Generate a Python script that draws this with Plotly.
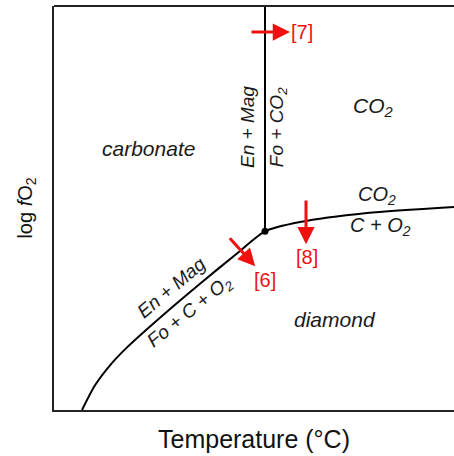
import plotly.graph_objects as go

# boundary curve (En+Mag = Fo+C+O2, then CO2 = C+O2)
curve_t = [7, 10.25, 14.0, 18.25, 26.5, 36.5, 45.75, 52.75, 61.5, 78.25, 100]
curve_f = [0, 6.11, 11.06, 15.5, 22.85, 31.26, 38.76, 44.23, 46.53, 48.76, 50.25]
# vertical reaction En+Mag = Fo+CO2
vert_t = [52.75, 52.75]
vert_f = [44.23, 100]
junction = (52.75, 44.23)

labels = [
    ("<i>carbonate</i>", 23.5, 64.85, 0, 21),
    ("<i>CO<sub>2</sub></i>", 79.75, 75, 0, 21),
    ("<i>En + Mag</i>", 48.2, 70, -90, 19),
    ("<i>Fo + CO<sub>2</sub></i>", 56.0, 70, -90, 19),
    ("<i>CO<sub>2</sub></i>", 80.75, 53.2, 0, 20),
    ("<i>C + O<sub>2</sub></i>", 81.5, 45.4, 0, 20),
    ("<i>En + Mag</i>", 29.3, 30.4, -40, 19),
    ("<i>Fo + C + O<sub>2</sub></i>", 34.0, 24.3, -39, 19),
    ("<i>diamond</i>", 70.25, 22.3, 0, 21),
]
# red arrows: (tail_t, tail_f, head_t, head_f)
arrows = [(49, 93.56, 59.0, 93.56), (63, 52.2, 63, 41.0), (43.6, 42.9, 50.3, 35.6)]
refs = [("[7]", 62.1, 93.56), ("[8]", 63.3, 37.9), ("[6]", 52.75, 32.3)]

fig = go.Figure()
fig.add_trace(go.Scatter(x=curve_t, y=curve_f, mode="lines", line=dict(color="black", width=2, shape="spline", smoothing=0.7), hoverinfo="skip"))
fig.add_trace(go.Scatter(x=vert_t, y=vert_f, mode="lines", line=dict(color="black", width=2), hoverinfo="skip"))
fig.add_trace(go.Scatter(x=[junction[0]], y=[junction[1]], mode="markers", marker=dict(color="black", size=7), hoverinfo="skip"))

ann = []
for txt, x, y, ang, fs in labels:
    ann.append(dict(x=x, y=y, text=txt, showarrow=False, textangle=ang, font=dict(size=fs, color="#1a1a1a")))
for tt, tf, ht, hf in arrows:
    ann.append(dict(x=ht, y=hf, ax=tt, ay=tf, axref="x", ayref="y", xref="x", yref="y", text="",
                    showarrow=True, arrowhead=2, arrowsize=1.15, arrowwidth=3, arrowcolor="#f01010"))
for txt, x, y in refs:
    ann.append(dict(x=x, y=y, text=txt, showarrow=False, font=dict(size=20, color="#f01010")))

fig.update_layout(
    width=454, height=456, margin=dict(l=54, r=0, t=6, b=46),
    paper_bgcolor="white", plot_bgcolor="white", showlegend=False,
    font=dict(family="Liberation Sans, Arial, sans-serif"),
    annotations=ann,
    shapes=[dict(type="line", xref="paper", yref="paper", x0=0, x1=1, y0=1, y1=1, line=dict(color="#222", width=2))],
    xaxis=dict(range=[0, 100], showgrid=False, zeroline=False, showticklabels=False, ticks="",
               showline=True, linecolor="#222", linewidth=2,
               title=dict(text="Temperature (°C)", font=dict(size=25, color="#111"), standoff=19)),
    yaxis=dict(range=[0, 100], showgrid=False, zeroline=False, showticklabels=False, ticks="",
               showline=True, linecolor="#222", linewidth=2,
               title=dict(text="log <i>f</i>O<sub>2</sub>", font=dict(size=20, color="#111"), standoff=14)),
)
fig.write_html("out.html")
